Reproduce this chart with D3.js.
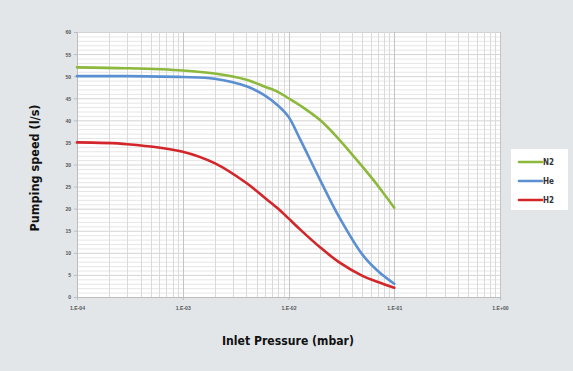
<!DOCTYPE html>
<html>
<head>
<meta charset="utf-8">
<script src="https://cdn.jsdelivr.net/npm/d3@7"></script>
<style>
  body { margin: 0; background: #e2e6e9; }
  svg { display: block; font-family: "Liberation Sans Narrow", "DejaVu Sans Condensed", "Roboto Condensed", sans-serif; }
  .tick text { fill: #555; font-size: 6px; font-weight: bold; }
  .axis-title { font-size: 13px; font-weight: bold; fill: #111; }
  .legend text { font-size: 8px; font-weight: bold; fill: #333; }
</style>
</head>
<body>
<div id="chart"></div>
<script>
// pressure points (mbar) shared by all gases
var pressure = [1e-4, 3e-4, 1e-3, 2e-3, 4e-3, 6e-3, 8e-3, 1e-2, 1.3e-2, 2e-2, 3e-2, 5e-2, 7e-2, 1e-1];
var n2 = [52, 51.8, 51.3, 50.6, 49.2, 47.6, 46.4, 45.0, 43.3, 40.0, 35.7, 29.5, 25.2, 20.2];
var he = [50, 50, 49.8, 49.4, 47.7, 45.6, 43.3, 40.8, 35.5, 26.4, 18.2, 9.6, 5.9, 3.0];
var h2 = [35, 34.6, 32.9, 30.3, 25.8, 22.4, 20.0, 17.8, 15.2, 11.2, 7.9, 4.8, 3.4, 2.1];
var gases = ["N2", "He", "H2"];
var xTicks = [1e-4, 1e-3, 1e-2, 1e-1, 1];
var xTickLabels = ["1.E-04", "1.E-03", "1.E-02", "1.E-01", "1.E+00"];
var yTicks = d3.range(0, 61, 5);

var colors = { N2: "#8cb83c", He: "#5a8fd2", H2: "#d3262a" };
var series = { N2: n2, He: he, H2: h2 };

var margin = { top: 32, right: 73, bottom: 74, left: 77 };
var width = 573 - margin.left - margin.right;
var height = 371 - margin.top - margin.bottom;

var svg = d3.select("#chart")
  .append("svg")
  .attr("width", 573)
  .attr("height", 371)
  .append("g")
  .attr("transform", "translate(" + margin.left + "," + margin.top + ")");

var x = d3.scaleLog().domain([1e-4, 1]).range([0, width]);
var y = d3.scaleLinear().domain([0, 60]).range([height, 0]);

// plot background
svg.append("rect")
  .attr("width", width)
  .attr("height", height)
  .attr("fill", "#fff");

// horizontal grid, every 1 l/s, darker every 5
svg.append("g")
  .selectAll("line")
  .data(d3.range(1, 61))
  .enter()
  .append("line")
  .attr("x1", 0)
  .attr("x2", width)
  .attr("y1", (d) => y(d) + 0.5)
  .attr("y2", (d) => y(d) + 0.5)
  .attr("stroke", (d) => (d % 5 == 0 ? "#d3d3d3" : "#e6e6e6"))
  .attr("stroke-width", 1);

// vertical log grid
var minor = [];
[1e-4, 1e-3, 1e-2, 1e-1].forEach((dec) => {
  for (var k = 2; k <= 9; k++) minor.push(dec * k);
});
svg.append("g")
  .selectAll("line")
  .data(minor.concat(xTicks))
  .enter()
  .append("line")
  .attr("x1", (d) => Math.round(x(d)) + 0.5)
  .attr("x2", (d) => Math.round(x(d)) + 0.5)
  .attr("y1", 0)
  .attr("y2", height)
  .attr("stroke", (d) => (xTicks.indexOf(d) >= 0 ? "#c4c4c4" : "#dadada"))
  .attr("stroke-width", 1);

// axes
var xAxis = svg.append("g")
  .attr("transform", "translate(0," + height + ")")
  .call(d3.axisBottom(x).tickValues(xTicks).tickFormat((d, i) => xTickLabels[i]).tickSize(3).tickPadding(6));
var yAxis = svg.append("g")
  .call(d3.axisLeft(y).tickValues(yTicks).tickSize(3).tickPadding(4));
[xAxis, yAxis].forEach((a) => {
  a.select(".domain").attr("stroke", "#bdbdbd");
  a.selectAll(".tick line").attr("stroke", "#bdbdbd");
  a.selectAll(".tick text").attr("transform", "scale(0.85,1)");
});

// curves
var line = d3.line()
  .x((d, i) => x(pressure[i]))
  .y((d) => y(d))
  .curve(d3.curveCatmullRom.alpha(0.5));

gases.forEach((g) => {
  svg.append("path")
    .datum(series[g])
    .attr("d", line)
    .attr("fill", "none")
    .attr("stroke", colors[g])
    .attr("stroke-width", 2.6)
    .attr("stroke-linecap", "round");
});

// axis titles (condensed face via textLength)
svg.append("text")
  .attr("class", "axis-title")
  .attr("x", 145)
  .attr("y", height + 48)
  .attr("textLength", 132)
  .attr("lengthAdjust", "spacingAndGlyphs")
  .text("Inlet Pressure (mbar)");

svg.append("text")
  .attr("class", "axis-title")
  .attr("transform", "translate(-38," + (height / 2 + 67) + ") rotate(-90)")
  .attr("textLength", 127)
  .attr("lengthAdjust", "spacingAndGlyphs")
  .text("Pumping speed (l/s)");

// legend
var legend = d3.select("svg")
  .append("g")
  .attr("class", "legend")
  .attr("transform", "translate(511,149)");

legend.append("rect")
  .attr("width", 57)
  .attr("height", 61)
  .attr("fill", "#fff");

gases.forEach((g, i) => {
  var row = legend.append("g").attr("transform", "translate(0," + (13 + i * 19) + ")");
  row.append("line")
    .attr("x1", 8)
    .attr("x2", 31)
    .attr("stroke", colors[g])
    .attr("stroke-width", 2.6)
    .attr("stroke-linecap", "round");
  row.append("text")
    .attr("x", 32)
    .attr("y", 3)
    .attr("textLength", 11)
    .attr("lengthAdjust", "spacingAndGlyphs")
    .text(g);
});
</script>
</body>
</html>
